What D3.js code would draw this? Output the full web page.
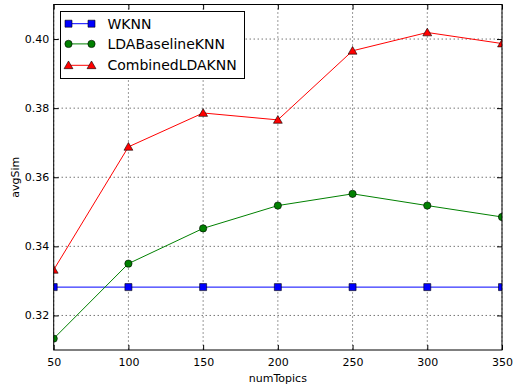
<!DOCTYPE html>
<html>
<head>
<meta charset="utf-8">
<script src="https://cdn.jsdelivr.net/npm/d3@7"></script>
<style>
  body { margin: 0; background: #fff; }
  text { font-family: "DejaVu Sans", sans-serif; }
</style>
</head>
<body>
<svg width="514" height="385"></svg>
<script>
const numTopics = [50, 100, 150, 200, 250, 300, 350];
const wknn = [0.3282, 0.3282, 0.3282, 0.3282, 0.3282, 0.3282, 0.3282];
const ldaBaseline = [0.3133, 0.3350, 0.3452, 0.3518, 0.3552, 0.3518, 0.3485];
const combined = [0.3332, 0.3688, 0.3786, 0.3766, 0.3966, 0.4019, 0.3987];
const seriesNames = ["WKNN", "LDABaselineKNN", "CombinedLDAKNN"];
const xTicks = [50, 100, 150, 200, 250, 300, 350];
const yTicks = [0.32, 0.34, 0.36, 0.38, 0.40];

const series = [
  {name: seriesNames[0], values: wknn, color: "#0000ff", marker: "square"},
  {name: seriesNames[1], values: ldaBaseline, color: "#008000", marker: "circle"},
  {name: seriesNames[2], values: combined, color: "#ff0000", marker: "triangle"}
];

const svg = d3.select("svg");
const pl = 53.7, pr = 502, pt = 4.5, pb = 350;

const x = d3.scaleLinear().domain([50, 350]).range([pl, pr]);
const y = d3.scaleLinear().domain([0.31, 0.41]).range([pb, pt]);

svg.append("clipPath").attr("id", "clip")
   .append("rect").attr("x", pl).attr("y", pt)
   .attr("width", pr - pl).attr("height", pb - pt);

// grid
const grid = svg.append("g");
grid.selectAll(".vg").data(xTicks).enter().append("line")
    .attr("x1", d => x(d)).attr("x2", d => x(d))
    .attr("y1", pt).attr("y2", pb)
    .attr("stroke", "#000").attr("stroke-width", 0.8).attr("stroke-dasharray", "1,3");
grid.selectAll(".hg").data(yTicks).enter().append("line")
    .attr("x1", pl).attr("x2", pr)
    .attr("y1", d => y(d)).attr("y2", d => y(d))
    .attr("stroke", "#000").attr("stroke-width", 0.8).attr("stroke-dasharray", "1,3");

// axes, ticks pointing inward
const fmt = d3.format(".2f");
svg.append("g").attr("transform", `translate(0,${pb})`)
   .call(d3.axisBottom(x).tickValues(xTicks).tickSize(-5).tickPadding(8.2).tickFormat(d3.format("d")))
   .call(g => g.select(".domain").remove());
svg.append("g").attr("transform", `translate(0,${pt})`)
   .call(d3.axisTop(x).tickValues(xTicks).tickSize(-5).tickFormat(""))
   .call(g => g.select(".domain").remove());
svg.append("g").attr("transform", `translate(${pl},0)`)
   .call(d3.axisLeft(y).tickValues(yTicks).tickSize(-5).tickPadding(4.5).tickFormat(fmt))
   .call(g => g.select(".domain").remove());
svg.append("g").attr("transform", `translate(${pr},0)`)
   .call(d3.axisRight(y).tickValues(yTicks).tickSize(-5).tickFormat(""))
   .call(g => g.select(".domain").remove());
svg.selectAll(".tick text").attr("font-family", "DejaVu Sans").attr("font-size", 11).attr("fill", "#000");
svg.selectAll(".tick line").attr("stroke", "#000");

const symbolOf = m => m === "square" ? d3.symbolSquare : m === "circle" ? d3.symbolCircle : d3.symbolTriangle;
const sizeOf = m => m === "square" ? 49 : m === "circle" ? 42 : 34;

const plot = svg.append("g").attr("clip-path", "url(#clip)");
const line = d3.line().x((d, i) => x(numTopics[i])).y(d => y(d));
series.forEach(s => {
  plot.append("path").datum(s.values).attr("d", line)
      .attr("fill", "none").attr("stroke", s.color).attr("stroke-width", 1);
  plot.selectAll(null).data(s.values).enter().append("path")
      .attr("d", d3.symbol().type(symbolOf(s.marker)).size(sizeOf(s.marker)))
      .attr("transform", (d, i) => `translate(${x(numTopics[i])},${y(d) + (s.marker === "triangle" ? 0.8 : 0)})`)
      .attr("fill", s.color).attr("stroke", "#000").attr("stroke-width", 0.6);
});

// frame
svg.append("rect").attr("x", pl).attr("y", pt)
   .attr("width", pr - pl).attr("height", pb - pt)
   .attr("fill", "none").attr("stroke", "#000").attr("stroke-width", 1);

// labels
svg.append("text").attr("x", (pl + pr) / 2).attr("y", 382)
   .attr("text-anchor", "middle").attr("font-size", 11).text("numTopics");
svg.append("text").attr("transform", `translate(19,${(pt + pb) / 2}) rotate(-90)`)
   .attr("text-anchor", "middle").attr("font-size", 11).text("avgSim");

// legend
const lg = svg.append("g");
lg.append("rect").attr("x", 60.5).attr("y", 11.5).attr("width", 184).attr("height", 67)
  .attr("fill", "#fff").attr("stroke", "#000").attr("stroke-width", 1);
const rowY = [23.7, 43.9, 65.3];
series.forEach((s, i) => {
  lg.append("line").attr("x1", 68.5).attr("x2", 91.5).attr("y1", rowY[i]).attr("y2", rowY[i])
    .attr("stroke", s.color).attr("stroke-width", 1);
  [68.5, 91.5].forEach(px => {
    lg.append("path")
      .attr("d", d3.symbol().type(symbolOf(s.marker)).size(sizeOf(s.marker)))
      .attr("transform", `translate(${px},${rowY[i] + (s.marker === "triangle" ? 0.8 : 0)})`)
      .attr("fill", s.color).attr("stroke", "#000").attr("stroke-width", 0.6);
  });
  lg.append("text").attr("x", 107.5).attr("y", rowY[i]).attr("dy", "0.35em")
    .attr("font-size", 14).text(s.name);
});
</script>
</body>
</html>
